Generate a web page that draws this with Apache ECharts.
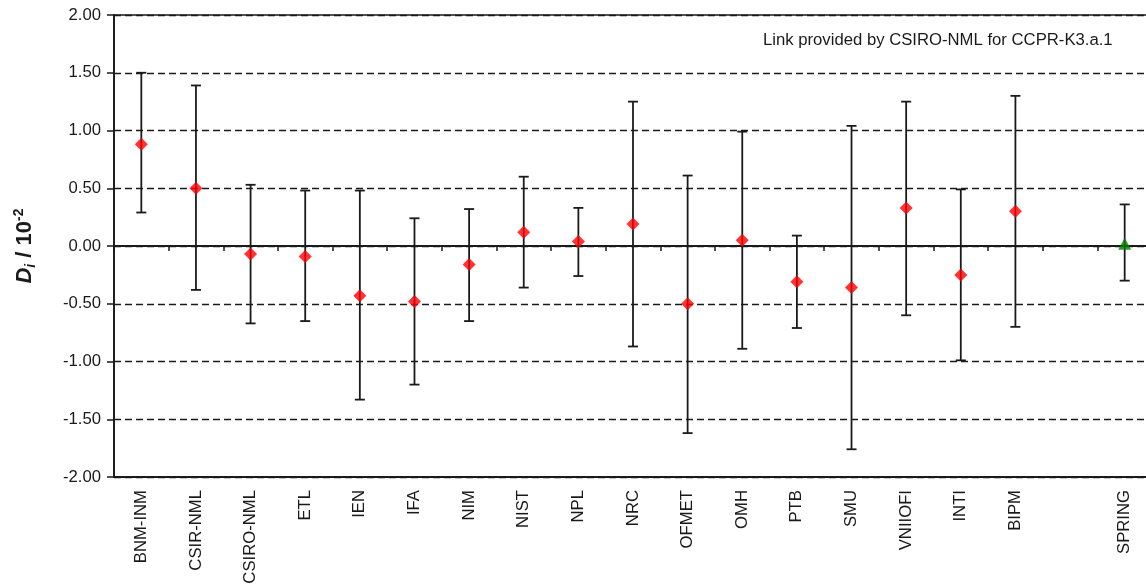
<!DOCTYPE html>
<html>
<head>
<meta charset="utf-8">
<title>Degrees of equivalence</title>
<script src="https://cdn.jsdelivr.net/npm/echarts@6/dist/echarts.min.js"></script>
<style>
  html, body { margin: 0; padding: 0; background: #fff; }
  #chart { width: 1146px; height: 588px; }
</style>
</head>
<body>
<div id="chart"></div>
<script>
// Participants (blank slot separates the linked laboratory)
const labs = ['BNM-INM', 'CSIR-NML', 'CSIRO-NML', 'ETL', 'IEN', 'IFA', 'NIM', 'NIST', 'NPL',
  'NRC', 'OFMET', 'OMH', 'PTB', 'SMU', 'VNIIOFI', 'INTI', 'BIPM', '', 'SPRING'];
// Degree of equivalence D_i (in units of 10^-2)
const di = [0.88, 0.50, -0.07, -0.09, -0.43, -0.48, -0.16, 0.12, 0.04,
  0.19, -0.50, 0.05, -0.31, -0.36, 0.33, -0.25, 0.30, null, 0.02];
// Lower and upper ends of the expanded uncertainty bars
const lower = [0.29, -0.38, -0.67, -0.65, -1.33, -1.20, -0.65, -0.36, -0.26,
  -0.87, -1.62, -0.89, -0.71, -1.76, -0.60, -0.99, -0.70, null, -0.30];
const upper = [1.50, 1.39, 0.53, 0.48, 0.48, 0.24, 0.32, 0.60, 0.33,
  1.25, 0.61, 0.99, 0.09, 1.04, 1.25, 0.49, 1.30, null, 0.36];
// Laboratory linked into the key comparison
const linkLab = 'SPRING';
const yTicks = [-2, -1.5, -1, -0.5, 0, 0.5, 1, 1.5, 2];

const FONT = "'Liberation Sans', Arial, sans-serif";
const INK = '#1a1a1a';
const FS = 16.7;

const barData = [];
const pilotData = [];
const linkData = [];
labs.forEach((lab, i) => {
  if (lower[i] != null) barData.push([i, lower[i], upper[i]]);
  if (di[i] == null) return;
  if (lab === linkLab) linkData.push([i, di[i]]);
  else pilotData.push([i, di[i]]);
});

const chart = echarts.init(document.getElementById('chart'));
chart.setOption({
  backgroundColor: '#fff',
  animation: false,
  grid: {
    left: 114, right: -6, top: 15, bottom: 111,
    containLabel: false, outerBoundsMode: 'none',
    show: true, borderColor: INK, borderWidth: 1.5, backgroundColor: 'transparent'
  },
  xAxis: [
    {
      // zero line with boundary ticks
      type: 'category', data: labs, position: 'bottom',
      boundaryGap: true,
      axisLine: { onZero: true, lineStyle: { color: INK, width: 1.8 } },
      axisTick: { show: true, length: 5, interval: 0, lineStyle: { color: INK, width: 1.5 } },
      axisLabel: { show: false },
      splitLine: { show: false }
    },
    {
      // category names along the bottom edge
      type: 'category', data: labs, position: 'bottom',
      boundaryGap: true,
      axisLine: { onZero: false, lineStyle: { color: INK, width: 1.8 } },
      axisTick: { show: false },
      axisLabel: {
        interval: 0, rotate: 90, margin: 13,
        fontFamily: FONT, fontSize: FS, color: INK
      },
      splitLine: { show: false }
    }
  ],
  yAxis: {
    type: 'value', min: yTicks[0], max: yTicks[yTicks.length - 1], interval: 0.5,
    axisLine: { show: true, onZero: false, lineStyle: { color: INK, width: 1.8 } },
    axisTick: { show: true, length: 7, lineStyle: { color: INK, width: 1.5 } },
    axisLabel: {
      margin: 13, fontFamily: FONT, fontSize: FS, color: INK,
      formatter: v => v.toFixed(2)
    },
    splitLine: { show: true, lineStyle: { color: INK, width: 1.4, type: [7, 4] } },
    name: '{d|D}{s|i}{n| / 10}{p|-2}',
    nameLocation: 'middle',
    nameRotate: 90,
    nameGap: 76,
    nameTextStyle: {
      fontFamily: FONT, color: INK,
      rich: {
        d: { fontFamily: FONT, fontStyle: 'italic', fontWeight: 'bold', fontSize: 22, lineHeight: 26 },
        s: { fontFamily: FONT, fontStyle: 'italic', fontWeight: 'bold', fontSize: 14, lineHeight: 14, verticalAlign: 'bottom' },
        n: { fontFamily: FONT, fontWeight: 'bold', fontSize: 22, lineHeight: 26 },
        p: { fontFamily: FONT, fontWeight: 'bold', fontSize: 14, lineHeight: 14, verticalAlign: 'top' }
      }
    }
  },
  graphic: [
    {
      type: 'text', left: 763, top: 32,
      style: {
        text: 'Link provided by CSIRO-NML for CCPR-K3.a.1',
        font: FS + "px 'Liberation Sans', Arial, sans-serif",
        fill: INK
      }
    }
  ],
  series: [
    {
      type: 'custom',
      xAxisIndex: 0,
      z: 2,
      data: barData,
      encode: { x: 0, y: [1, 2] },
      renderItem: function (params, api) {
        const x = api.value(0);
        const lo = api.coord([x, api.value(1)]);
        const hi = api.coord([x, api.value(2)]);
        const cap = 5;
        const st = { stroke: INK, lineWidth: 1.8 };
        return {
          type: 'group',
          children: [
            { type: 'line', shape: { x1: lo[0], y1: lo[1], x2: hi[0], y2: hi[1] }, style: st },
            { type: 'line', shape: { x1: hi[0] - cap, y1: hi[1], x2: hi[0] + cap, y2: hi[1] }, style: st },
            { type: 'line', shape: { x1: lo[0] - cap, y1: lo[1], x2: lo[0] + cap, y2: lo[1] }, style: st }
          ]
        };
      }
    },
    {
      type: 'scatter',
      xAxisIndex: 0,
      z: 5,
      symbol: 'diamond',
      symbolSize: 13,
      itemStyle: { color: '#ff0000' },
      data: pilotData
    },
    {
      type: 'scatter',
      xAxisIndex: 0,
      z: 5,
      symbol: 'triangle',
      symbolSize: [13, 12],
      itemStyle: { color: '#008000' },
      data: linkData
    }
  ]
});
</script>
</body>
</html>
